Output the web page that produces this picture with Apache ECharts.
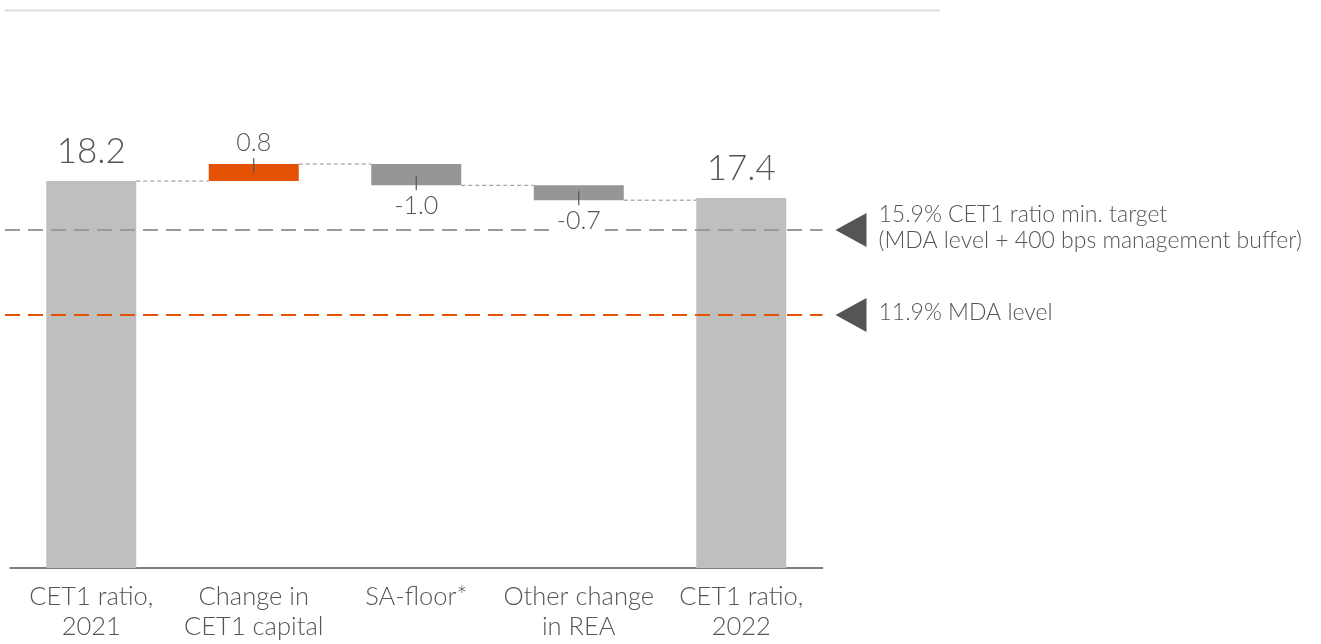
<!DOCTYPE html>
<html><head><meta charset="utf-8">
<script src="https://cdn.jsdelivr.net/npm/echarts@6/dist/echarts.min.js"></script>
<style>html,body{margin:0;padding:0;background:#fff}#c{width:1321px;height:644px}</style>
</head><body><div id="c"></div>
<script>
// ---- data ----
const categories = ['CET1 ratio,\n2021', 'Change in\nCET1 capital', 'SA-floor*', 'Other change\nin REA', 'CET1 ratio,\n2022'];
const startValue = 18.2;
const changes = [0.8, -1.0, -0.7];
const endValue = 17.4;
const thresholdValues = [15.9, 11.9];
const thresholdLabels = ['15.9% CET1 ratio min. target\n(MDA level + 400 bps management buffer)', '11.9% MDA level'];

// ---- derived waterfall ----
const FONT = 'Lato';
const TXT = '#555555';
const GRAY_TOTAL = '#bfbfbf', GRAY_NEG = '#969696', ORANGE = '#e35205';
const baseData = [0], valueData = [startValue], levels = [startValue];
let run = startValue;
changes.forEach(d => {
  const next = run + d;
  baseData.push(Math.min(run, next));
  valueData.push(Math.abs(d));
  run = next; levels.push(run);
});
baseData.push(0); valueData.push(endValue);
const itemColors = [GRAY_TOTAL].concat(changes.map(d => d >= 0 ? ORANGE : GRAY_NEG), [GRAY_TOTAL]);

const connectorData = [];
for (let i = 0; i < levels.length; i++) connectorData.push([i, levels[i]]);
// change annotations: [catIndex, edgeValue, sign]
const changeAnn = changes.map((d, k) => [k + 1, levels[k + 1], d >= 0 ? 1 : -1]);
const changeText = changes.map(d => (d >= 0 ? '' : '-') + Math.abs(d).toFixed(1));

const chart = echarts.init(document.getElementById('c'), null, {renderer: 'canvas'});
const BARW = 90;
chart.setOption({
  animation: false,
  textStyle: {fontFamily: FONT},
  graphic: [{type: 'line', shape: {x1: 5, y1: 10.5, x2: 940, y2: 10.5}, style: {stroke: '#dddddd', lineWidth: 2}}],
  grid: {left: 10, width: 812.5, top: 36.5, height: 531.5},
  xAxis: {
    type: 'category', data: categories,
    axisLine: {lineStyle: {color: '#555', width: 1.5}},
    axisTick: {show: false},
    axisLabel: {color: TXT, fontSize: 25.5, fontWeight: 300, fontFamily: FONT, lineHeight: 30, margin: 14, interval: 0}
  },
  yAxis: {type: 'value', min: 0, max: 25, show: false, splitLine: {show: false}},
  series: [
    {type: 'bar', stack: 'w', data: baseData, barWidth: BARW, itemStyle: {color: 'transparent'}, silent: true},
    {type: 'bar', stack: 'w', barWidth: BARW,
      data: valueData.map((v, i) => ({value: v, itemStyle: {color: itemColors[i]},
        label: (i === 0 || i === valueData.length - 1) ? {show: true, position: 'top', distance: 12,
          formatter: v.toFixed(1), fontSize: 35, fontWeight: 300, color: TXT, fontFamily: FONT} : {show: false}}))
    },
    {type: 'custom', data: connectorData,
      renderItem: function (params, api) {
        const i = api.value(0), lv = api.value(1);
        const p1 = api.coord([i, lv]), p2 = api.coord([i + 1, lv]);
        return {type: 'line', shape: {x1: p1[0] + BARW / 2, y1: p1[1], x2: p2[0] - BARW / 2, y2: p2[1]},
          style: {stroke: '#8c8c8c', lineWidth: 1, lineDash: [4, 3]}};
      }, z: 3},
    {type: 'custom', data: changeAnn,
      renderItem: function (params, api) {
        const i = api.value(0), edge = api.value(1), s = api.value(2);
        const p = api.coord([i, edge]);
        const tick = s > 0 ? [p[1] - 6, p[1] + 9] : [p[1] - 9, p[1] + 5];
        return {type: 'group', children: [
          {type: 'line', shape: {x1: p[0], y1: tick[0], x2: p[0], y2: tick[1]}, style: {stroke: '#555', lineWidth: 1.2}},
          {type: 'text', x: p[0], y: p[1] - s * 21, style: {text: changeText[params.dataIndex], fontSize: 25, fontWeight: 300, fontFamily: FONT,
            fill: TXT, align: 'center', verticalAlign: 'middle', backgroundColor: '#fff', padding: [0, 4]}}
        ]};
      }, z: 5},
    {type: 'custom', data: thresholdValues.map((v, i) => [0, v, i]),
      renderItem: function (params, api) {
        const cs = params.coordSys;
        const y = api.coord([0, api.value(1)])[1];
        const k = api.value(2);
        const color = k === 0 ? '#9a9a9a' : ORANGE;
        const xr = cs.x + cs.width;
        return {type: 'group', children: [
          {type: 'line', shape: {x1: cs.x - 5, y1: y, x2: xr, y2: y}, style: {stroke: color, lineWidth: 2, lineDash: [15, 8]}},
          {type: 'polygon', shape: {points: [[xr + 13, y], [xr + 44, y - 17], [xr + 44, y + 17]]}, style: {fill: '#555'}},
          {type: 'text', x: xr + 56, y: y - 2, style: {text: thresholdLabels[k], fontSize: 23, fontWeight: 300, fontFamily: FONT,
            fill: TXT, align: 'left', verticalAlign: 'middle', lineHeight: 26}}
        ]};
      }, z: 4}
  ]
});
</script></body></html>
